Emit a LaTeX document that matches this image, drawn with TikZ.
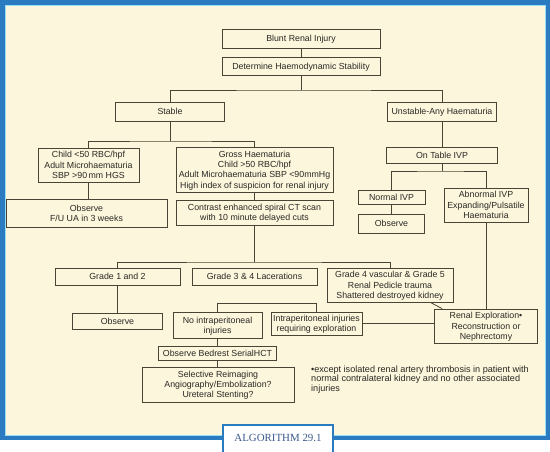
\documentclass[tikz,border=0pt]{standalone}
\usepackage{fontspec}
\setmainfont{Liberation Sans}
\newfontfamily\labelfont{Liberation Serif}
\definecolor{frameblue}{HTML}{2B7BC0}
\definecolor{cream}{HTML}{FCF6DC}
\definecolor{boxline}{HTML}{4A4435}
\definecolor{txt}{HTML}{2A2824}
\definecolor{labeltxt}{HTML}{3C5A8C}
\tikzset{
  bx/.style={draw=boxline, line width=0.8pt, inner sep=1pt, align=center, text=txt,
    text depth=0pt, font=\fontsize{8.8}{10.3}\selectfont},
  ln/.style={draw=boxline, line width=0.8pt},
}
\newcommand{\bxat}[5]{\node[bx, minimum width=#3pt, minimum height=#4pt] (#1) at (#2) {#5};}
\begin{document}
\begin{tikzpicture}[x=1pt,y=-1pt]
\useasboundingbox (0,0) rectangle (550,451);
\clip (0,0) rectangle (550,451);
\fill[white] (0,0) rectangle (550,451);
\fill[frameblue] (0,0) rectangle (550,439.5);
\fill[cream] (4.5,5) rectangle (545.5,435.5);
\draw[white!60!cyan, line width=0.6pt] (4.8,5.3) rectangle (545.2,435.2);

% boxes
\bxat{blunt}{301,38.5}{158}{19}{Blunt Renal Injury}
\bxat{determine}{301,66}{158}{18}{Determine Haemodynamic Stability}
\bxat{stable}{170,111.5}{109}{19}{Stable}
\bxat{unstable}{442,111.5}{109}{19}{Unstable-Any Haematuria}
\bxat{child}{88.5,165}{101}{34}{Child <50 RBC/hpf\\Adult Microhaematuria\\SBP >90\,mm HGS}
\bxat{gross}{254.5,169.5}{157}{45}{Gross Haematuria\\Child >50 RBC/hpf\\Adult Microhaematuria SBP <90mmHg\\High index of suspicion for renal injury}
\bxat{obsfu}{86.5,213}{161}{28}{Observe\\F/U UA in 3 weeks}
\bxat{contrast}{254.5,212.5}{157}{25}{Contrast enhanced spiral CT scan\\with 10 minute delayed cuts}
\bxat{ontable}{442,155}{111}{16}{On Table IVP}
\bxat{normal}{391.5,197}{67}{14}{Normal IVP}
\bxat{abnormal}{486,205}{84}{34}{Abnormal IVP\\Expanding/Pulsatile\\Haematuria}
\bxat{observeb}{391.5,223.5}{66}{19}{Observe}
\bxat{grade12}{117.5,276.5}{125}{17}{Grade 1 and 2}
\bxat{grade34}{254.5,276.5}{125}{17}{Grade 3 \& 4 Lacerations}
\bxat{grade4}{390,285}{126}{34}{Grade 4 vascular \& Grade 5\\Renal Pedicle trauma\\Shattered destroyed kidney}
\bxat{observec}{117.5,321}{90}{16}{Observe}
\bxat{nointra}{217.5,325}{89}{26}{No intraperitoneal\\injuries}
\bxat{intra}{316.5,323.5}{91}{23}{Intraperitoneal injuries\\requiring exploration}
\bxat{renal}{486,326}{103}{34}{Renal Exploration•\\Reconstruction or\\Nephrectomy}
\bxat{bedrest}{217.5,353}{118}{14}{Observe Bedrest SerialHCT}
\bxat{selective}{218,384.5}{152}{35}{Selective Reimaging\\Angiography/Embolization?\\Ureteral Stenting?}

% junctions
\coordinate (j1) at (301,90);
\coordinate (j2) at (170,141);
\coordinate (j3) at (254.5,262);
\coordinate (j5) at (442,171);

% connectors
\draw[ln] (blunt) -- (determine);
\draw[ln] (determine) -- (j1);
\draw[ln] (stable.north) |- (j1) -| (unstable.north);
\draw[ln] (stable) -- (j2);
\draw[ln] (child.north) |- (j2) -| (gross.north);
\draw[ln] (child.south) -- (child.south |- obsfu.north);
\draw[ln] (gross) -- (contrast);
\draw[ln] (contrast) -- (j3);
\draw[ln] (grade12.north) |- (j3) -| (grade4.north);
\draw[ln] (grade12) -- (observec);
\draw[ln] (nointra.north) -- ++(0,-8) -| (intra.north);
\draw[ln] (nointra.south) -- (nointra.south |- bedrest.north);
\draw[ln] (bedrest.south) -- (bedrest.south |- selective.north);
\draw[ln] (unstable) -- (ontable);
\draw[ln] (ontable) -- (j5);
\draw[ln] (normal.north) |- (j5) -| (abnormal.north);
\draw[ln] (normal) -- (observeb);
\draw[ln] (abnormal) -- (renal);
\draw[ln] (intra.east) -- (renal.west |- intra.east);
\draw[ln] ([xshift=-23pt]grade4.south east) -- ([xshift=8pt]renal.north west);

% footnote
\node[anchor=north west, align=left, inner sep=0pt, text=txt,
  font=\fontsize{9.1}{9.2}\selectfont] (foot) at (311,366)
  {•except isolated renal artery thrombosis in patient with\\normal contralateral kidney and no other associated\\injuries};

% label
\node[draw=frameblue, line width=1.5pt, fill=white, minimum width=110pt, minimum height=32pt,
  anchor=north] (lab) at (278,424) {};
\node[text=labeltxt, font=\labelfont\fontsize{10.9}{12}\selectfont, inner sep=0pt] (labt) at (278,437.5) {ALGORITHM 29.1};
\end{tikzpicture}
\end{document}
